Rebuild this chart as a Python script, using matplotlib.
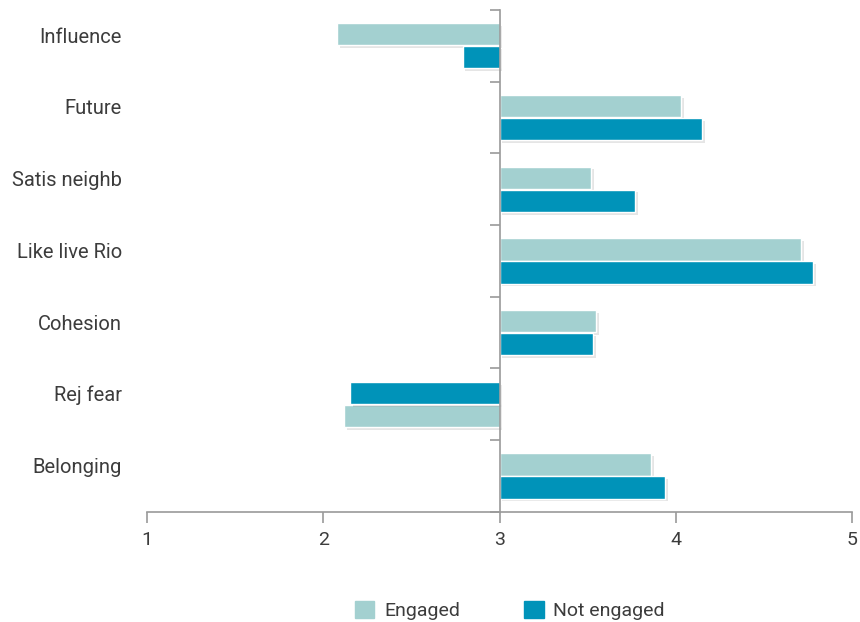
import matplotlib
matplotlib.use("Agg")
import matplotlib.pyplot as plt
import matplotlib.patheffects as pe
import matplotlib.transforms as mtransforms
import numpy as np

plt.rcParams['font.family'] = ['Roboto', 'DejaVu Sans']

categories = ["Influence", "Future", "Satis neighb", "Like live Rio", "Cohesion", "Rej fear", "Belonging"]
engaged = [2.08, 4.03, 3.52, 4.71, 3.55, 2.12, 3.86]
not_engaged = [2.79, 4.15, 3.77, 4.78, 3.53, 2.15, 3.94]
# in "Rej fear" the order of the two bars is swapped in the original
engaged_on_top = [True, True, True, True, True, False, True]
x_ticks = [1, 2, 3, 4, 5]

c_eng = "#a3d0d0"
c_not = "#0093b9"
txt = "#3c3c3c"
axis_col = "#9a9a9a"

fig = plt.figure(figsize=(8.6, 6.22), dpi=100)
ax = fig.add_axes([0.171, 0.177, 0.8197, 0.807])

base = 3
h = 0.31
off = 0.16
shadow = [pe.SimplePatchShadow(offset=(2, -2), shadow_rgbFace="#000000", alpha=0.1), pe.Normal()]

y = np.arange(len(categories))
for i in range(len(categories)):
    s = -1 if engaged_on_top[i] else 1
    b1 = ax.barh(y[i] + s * off, engaged[i] - base, left=base, height=h,
                 color=c_eng, edgecolor="white", linewidth=1)
    b2 = ax.barh(y[i] - s * off, not_engaged[i] - base, left=base, height=h,
                 color=c_not, edgecolor="white", linewidth=1)
    for p in list(b1) + list(b2):
        p.set_path_effects(shadow)

ax.set_xlim(1, 5)
ax.set_ylim(len(categories) - 0.5, -0.5)

ax.set_xticks(x_ticks)
ax.set_xticklabels([str(t) for t in x_ticks], fontsize=14, color=txt)
ax.tick_params(axis='x', length=8, width=1.2, color=axis_col, pad=6)

# vertical axis at x = 3 with tick marks at category boundaries
ax.spines["left"].set_position(("data", base))
ax.set_yticks(np.arange(-0.5, len(categories), 1))
ax.set_yticklabels([])
ax.tick_params(axis='y', length=7, width=1.2, color=axis_col)

for s in ["top", "right"]:
    ax.spines[s].set_visible(False)
for s in ["bottom", "left"]:
    ax.spines[s].set_color(axis_col)
    ax.spines[s].set_linewidth(1.2)

# category labels at the left of the plot
trans = mtransforms.blended_transform_factory(ax.transAxes, ax.transData)
for i, name in enumerate(categories):
    ax.text(-25 / 705, y[i] - 0.12, name, transform=trans, ha="right", va="center",
            fontsize=14.5, color=txt)

handles = [plt.Rectangle((0, 0), 1, 1, color=c_eng), plt.Rectangle((0, 0), 1, 1, color=c_not)]
fig.legend(handles, ["Engaged", "Not engaged"], loc="center", bbox_to_anchor=(0.593, 0.019),
           ncol=2, frameon=False, fontsize=14, handlelength=1.0, handleheight=1.0,
           columnspacing=3.3, handletextpad=0.5, labelcolor=txt)

fig.savefig("out.png", dpi=100)
